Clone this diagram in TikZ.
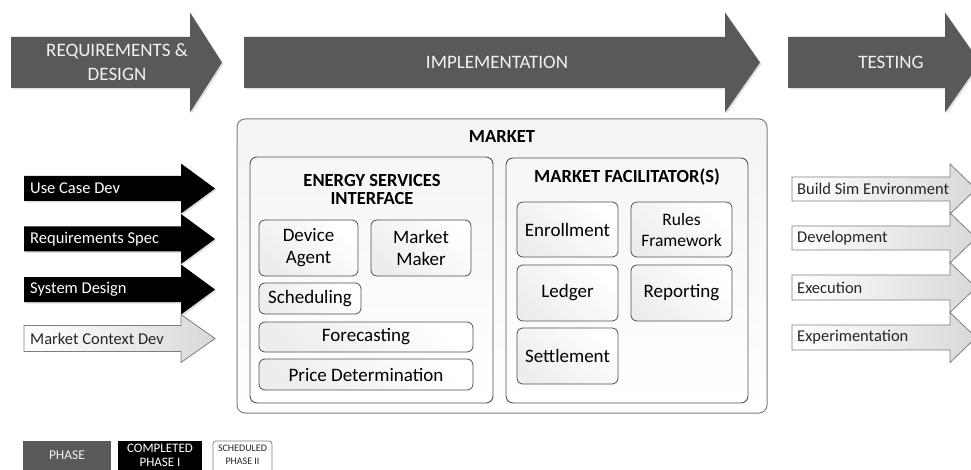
\documentclass[tikz,border=0pt]{standalone}
\usepackage{fontspec}
\setmainfont{Carlito}
\usetikzlibrary{shadows}
\definecolor{phasegray}{HTML}{595959}
\definecolor{linegray}{HTML}{7F7F7F}
\definecolor{boxline}{HTML}{505050}
\definecolor{toptxt}{HTML}{F2F2F2}
\newcommand\myarrow[7]{%
  \path[#1] ({#2},{#5-#6}) -- ({#3},{#5-#6}) -- ({#3},{#5-#7}) -- ({#4},{#5})
    -- ({#3},{#5+#7}) -- ({#3},{#5+#6}) -- ({#2},{#5+#6}) -- cycle;}
\tikzset{
  phasearrow/.style={fill=phasegray, drop shadow={opacity=0.25, shadow xshift=1.5pt, shadow yshift=-1.5pt}},
  donearrow/.style={fill=black, drop shadow={opacity=0.25, shadow xshift=1.5pt, shadow yshift=-1.5pt}},
  schedarrow/.style={draw=linegray, line width=0.8pt, left color=white, right color=gray!30},
  toptext/.style={text=toptxt, align=center, font=\fontsize{19}{24}\selectfont, inner sep=0pt},
  sidetext/.style={anchor=west, font=\fontsize{16.5}{18}\selectfont, inner sep=0pt},
  outerbox/.style={draw=linegray, line width=1pt, rounded corners=8pt, top color=gray!9, bottom color=white},
  groupbox/.style={draw=boxline, line width=0.9pt, rounded corners=7pt, top color=gray!7, bottom color=white},
  itembox/.style={draw=boxline, line width=0.8pt, rounded corners=6pt, left color=gray!14, right color=white, shading angle=135},
  itemtext/.style={align=center, font=\fontsize{19}{22}\selectfont, inner sep=0pt},
  headtext/.style={align=center, font=\bfseries\fontsize{18.5}{17.5}\selectfont, inner sep=0pt},
  legendtext/.style={align=center, inner sep=0pt}
}
\begin{document}
\begin{tikzpicture}[x=1pt,y=-1pt]
\clip (0,0) rectangle (971,470);
\fill[white] (0,0) rectangle (971,470);
% top phase arrows
\myarrow{phasearrow}{11}{190}{222}{62.5}{25.5}{50}
\myarrow{phasearrow}{244}{725}{760}{62.5}{25.5}{50}
\myarrow{phasearrow}{788}{945}{980}{62.5}{25.5}{50}
\node[toptext] (req) at (117,62) {REQUIREMENTS \&\\DESIGN};
\node[toptext] (impl) at (497,62) {IMPLEMENTATION};
\node[toptext] (test) at (891,62) {TESTING};
% left arrows
\myarrow{donearrow}{24}{181}{215}{188.5}{12.5}{25}
\myarrow{donearrow}{24}{181}{215}{239}{12.5}{25}
\myarrow{donearrow}{24}{181}{215}{289.5}{12.5}{25}
\myarrow{schedarrow}{24}{181}{215}{338.5}{13}{24}
\node[sidetext, text=white] (ucd) at (30,188.5) {Use Case Dev};
\node[sidetext, text=white] (rs) at (30,239) {Requirements Spec};
\node[sidetext, text=white] (sd) at (30,289.5) {System Design};
\node[sidetext, text=black!85] (mcd) at (30,338.5) {Market Context Dev};
% right arrows
\myarrow{schedarrow}{792}{950}{976}{189}{12}{25}
\myarrow{schedarrow}{792}{950}{976}{238}{12}{25}
\myarrow{schedarrow}{792}{950}{976}{287.5}{12.5}{25}
\myarrow{schedarrow}{792}{950}{976}{337.5}{12.5}{25}
\node[sidetext, text=black!85] (bse) at (797,189) {Build Sim Environment};
\node[sidetext, text=black!85] (dev) at (797,238) {Development};
\node[sidetext, text=black!85] (exe) at (797,287.5) {Execution};
\node[sidetext, text=black!85] (exp) at (797,337.5) {Experimentation};
% market
\path[outerbox] (237,119) rectangle (767,413);
\node[headtext] (market) at (502,137) {MARKET};
\path[groupbox] (250,157) rectangle (493,403);
\node[headtext] (esi) at (372,189.5) {ENERGY SERVICES\\INTERFACE};
\path[groupbox] (506,158) rectangle (748,403);
\node[headtext] (mf) at (627,177) {MARKET FACILITATOR(S)};
% ESI items
\path[itembox] (259,220) rectangle (358,276);
\node[itemtext] (da) at (308.5,248) {Device\\Agent};
\path[itembox] (371,220) rectangle (471,276);
\node[itemtext] (mm) at (421,248) {Market\\Maker};
\path[itembox] (259,283) rectangle (361,314);
\node[itemtext] (sch) at (310,298.5) {Scheduling};
\path[itembox] (259,322) rectangle (473,352);
\node[itemtext] (fc) at (366,337) {Forecasting};
\path[itembox] (259,359) rectangle (473,390);
\node[itemtext] (pd) at (366,374.5) {Price Determination};
% MF items
\path[itembox] (517,202) rectangle (618,257);
\node[itemtext] (enr) at (567.5,229.5) {Enrollment};
\path[itembox] (631,202) rectangle (732,257);
\node[itemtext, font=\fontsize{17.5}{21}\selectfont] (rf) at (681.5,229.5) {Rules\\Framework};
\path[itembox] (517,265) rectangle (618,321);
\node[itemtext] (led) at (567.5,293) {Ledger};
\path[itembox] (631,265) rectangle (732,321);
\node[itemtext] (rep) at (681.5,293) {Reporting};
\path[itembox] (517,328) rectangle (618,384);
\node[itemtext] (set) at (567.5,356) {Settlement};
% legend
\fill[phasegray] (23,441) rectangle (111,476);
\node[legendtext, text=toptxt, font=\fontsize{13.5}{15}\selectfont] (lp) at (67,455.5) {PHASE};
\fill[black] (118,441) rectangle (202,476);
\node[legendtext, text=white, font=\fontsize{13}{14}\selectfont] (lc) at (160,455) {COMPLETED\\PHASE I};
\draw[linegray, line width=0.8pt, rounded corners=3pt, fill=white] (213,441) rectangle (272,478);
\node[legendtext, text=black!85, font=\fontsize{10}{13}\selectfont] (ls) at (242.5,455) {SCHEDULED\\PHASE II};
\end{tikzpicture}
\end{document}
